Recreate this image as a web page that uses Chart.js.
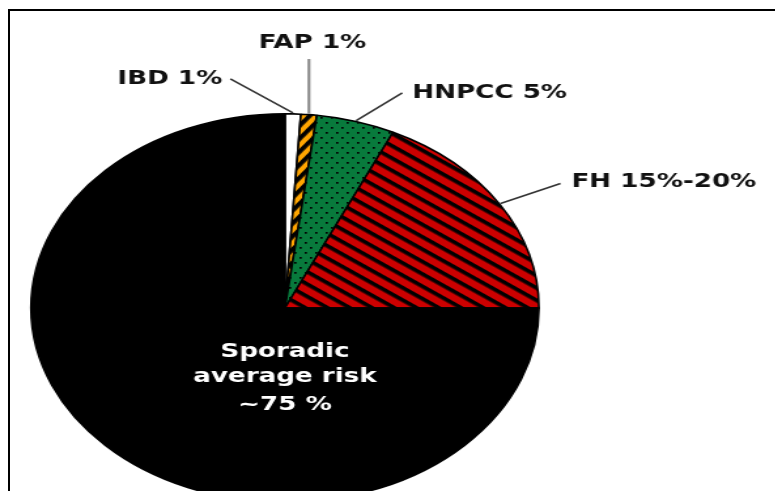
<!DOCTYPE html>
<html>
<head>
<meta charset="utf-8">
<script src="https://cdn.jsdelivr.net/npm/chart.js@4/dist/chart.umd.min.js"></script>
<style>
  html, body { margin: 0; padding: 0; background: #fff; }
  #page { position: relative; width: 775px; height: 491px; overflow: hidden; background: #fff; }
  #stretch { position: absolute; left: 0; top: 0; width: 593px; height: 520px;
             transform: scaleX(1.3077); transform-origin: 0 0; }
  #frame { position: absolute; left: 8px; top: 9px; width: 800px; height: 600px;
           border-left: 2px solid #000; border-top: 2px solid #000; pointer-events: none; }
</style>
</head>
<body>
<div id="page">
  <div id="stretch"><canvas id="pie"></canvas></div>
  <div id="frame"></div>
</div>
<script>
// Causes of colorectal cancer, share of cases
const categories = ['IBD', 'FAP', 'HNPCC', 'FH', 'Sporadic'];
const shares = [1, 1, 5, 18, 75];
const outerLabels = ['IBD 1%', 'FAP 1%', 'HNPCC 5%', 'FH 15%-20%'];
const centerLabel = ['Sporadic', 'average risk', '~75 %'];

// Fill patterns
function stripes(bg, fg, period, band, angle) {
  const c = document.createElement('canvas');
  c.width = period; c.height = period;
  const g = c.getContext('2d');
  g.fillStyle = bg; g.fillRect(0, 0, period, period);
  g.fillStyle = fg; g.fillRect(0, 0, period, band);
  const p = g.createPattern(c, 'repeat');
  p.setTransform(new DOMMatrix().rotate(angle));
  return p;
}
function dots(bg, fg) {
  const c = document.createElement('canvas');
  c.width = 8; c.height = 10;
  const g = c.getContext('2d');
  g.fillStyle = bg; g.fillRect(0, 0, 8, 10);
  g.fillStyle = fg;
  g.fillRect(1, 2, 1.7, 1.7);
  g.fillRect(5, 7, 1.7, 1.7);
  return g.createPattern(c, 'repeat');
}

const fills = [
  '#ffffff',
  stripes('#ffa500', '#000000', 8, 3.8, -52),
  dots('#087a3c', '#000000'),
  stripes('#cc0000', '#000000', 10, 3.6, 36),
  '#000000'
];

// Leader-line labels, positions in units of the pie radius from its centre
const labelSpots = [
  { text: outerLabels[0], tx: -0.247, ty: -1.18, align: 'right', lx: -0.215, ly: -1.18, color: '#333', w: 1.6 },
  { text: outerLabels[1], tx: 0.108, ty: -1.364, align: 'center', lx: null, ly: -1.282, color: '#8a8a8a', w: 2.2 },
  { text: outerLabels[2], tx: 0.501, ty: -1.108, align: 'left', lx: 0.462, ly: -1.108, color: '#333', w: 1.6 },
  { text: outerLabels[3], tx: 1.128, ty: -0.651, align: 'left', lx: 1.085, ly: -0.641, color: '#333', w: 1.6 }
];
const centerLineOffsets = [0.226, 0.356, 0.497];

const labelPlugin = {
  id: 'pieLabels',
  afterDatasetsDraw(chart) {
    const ctx = chart.ctx;
    const arcs = chart.getDatasetMeta(0).data;
    const first = arcs[0].getProps(['x', 'y', 'outerRadius'], true);
    const cx = first.x, cy = first.y, R = first.outerRadius;
    ctx.save();
    ctx.font = 'bold 20px "DejaVu Sans"';
    ctx.textBaseline = 'middle';
    labelSpots.forEach((s, i) => {
      const a = arcs[i].getProps(['startAngle', 'endAngle'], true);
      const mid = (a.startAngle + a.endAngle) / 2;
      const ix = cx + Math.cos(mid) * (R + 1);
      const iy = cy + Math.sin(mid) * (R + 1);
      const ox = s.lx === null ? ix : cx + s.lx * R;
      const oy = cy + s.ly * R;
      ctx.strokeStyle = s.color;
      ctx.lineWidth = s.w;
      ctx.beginPath();
      ctx.moveTo(ox, oy);
      ctx.lineTo(ix, iy);
      ctx.stroke();
      ctx.fillStyle = '#111';
      ctx.textAlign = s.align;
      ctx.fillText(s.text, cx + s.tx * R, cy + s.ty * R);
    });
    ctx.fillStyle = '#ffffff';
    ctx.textAlign = 'center';
    centerLabel.forEach((t, i) => {
      ctx.fillText(t, cx, cy + centerLineOffsets[i] * R);
    });
    ctx.restore();
  }
};

new Chart(document.getElementById('pie'), {
  type: 'pie',
  data: {
    labels: categories,
    datasets: [{
      data: shares,
      backgroundColor: fills,
      borderColor: '#000000',
      borderWidth: 1.6
    }]
  },
  options: {
    responsive: true,
    maintainAspectRatio: false,
    animation: false,
    layout: { padding: { top: 113, bottom: 17, left: 22.9, right: 180.1 } },
    plugins: { legend: { display: false }, tooltip: { enabled: false } }
  },
  plugins: [labelPlugin]
});
</script>
</body>
</html>
